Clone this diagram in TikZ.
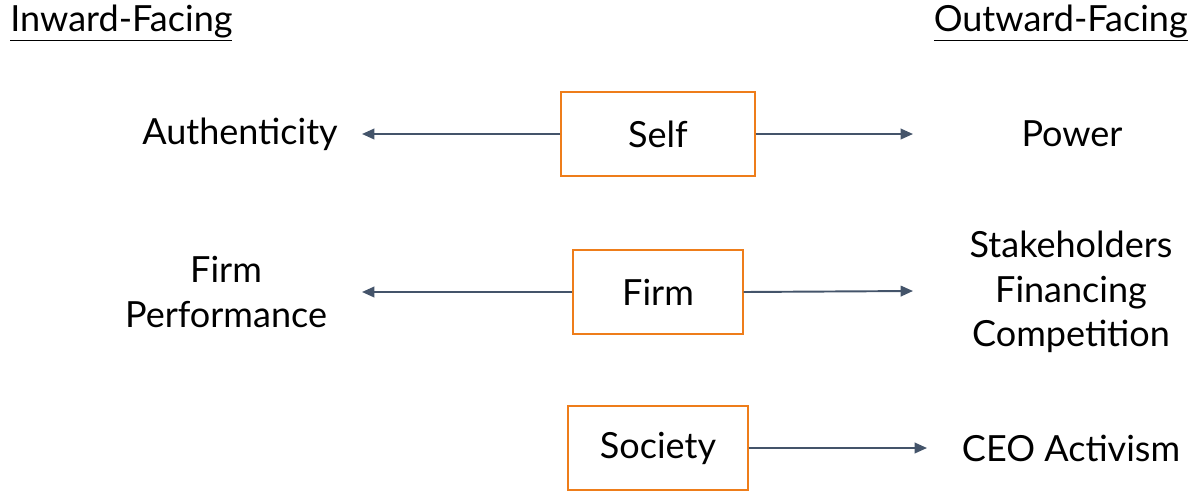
\documentclass[tikz,border=0pt]{standalone}
\usepackage{fontspec}
\setmainfont{Lato}
\usetikzlibrary{arrows.meta}
\definecolor{boxorange}{HTML}{EE7D1A}
\definecolor{arrowslate}{HTML}{44546A}
\tikzset{
  level/.style={draw=boxorange, line width=1.1pt, minimum height=47.6pt, inner sep=0pt},
  lbl/.style={align=center, inner sep=0pt, font=\fontsize{20.5}{25.5}\selectfont},
  link/.style={draw=arrowslate, line width=1.1pt, -{Triangle[length=7pt,width=6pt]}}
}
\begin{document}
\begin{tikzpicture}[x=0.02cm,y=-0.02cm]
      \useasboundingbox (0,0) rectangle (1197,491);
      % column headings
      \node[lbl, anchor=west] (inward) at (10,23) {\underline{Inward-Facing}};
      \node[lbl, anchor=east] (outward) at (1188,23) {\underline{Outward-Facing}};
      % levels
      \node[level, minimum width=110pt] (self) at (658,134) {};
      \node[level, minimum width=96.4pt] (firm) at (658,292) {};
      \node[level, minimum width=102pt] (society) at (658,448) {};
      \node[lbl] at (self) {Self};
      \node[lbl] at (firm) {Firm};
      \node[lbl] at (society) {Society};
      % inward side
      \node[lbl] (authenticity) at (240,134) {Authenticity};
      \node[lbl] (performance) at (226,292) {Firm\\Performance};
      \coordinate (authin) at (362,134);
      \coordinate (perfin) at (362,292);
      % outward side
      \node[lbl] (power) at (1072,134) {Power};
      \node[lbl] (stakeholders) at (1071,292) {Stakeholders\\Financing\\Competition};
      \node[lbl] (activism) at (1071,448) {CEO Activism};
      \coordinate (powin) at (913,134);
      \coordinate (stakein) at (913,291);
      \coordinate (actin) at (927,448);
      % arrows
      \draw[link] (self.west) -- (authin);
      \draw[link] (self.east) -- (powin);
      \draw[link] (firm.west) -- (perfin);
      \draw[link] (firm.east) -- (stakein);
      \draw[link] (society.east) -- (actin);
\end{tikzpicture}
\end{document}
